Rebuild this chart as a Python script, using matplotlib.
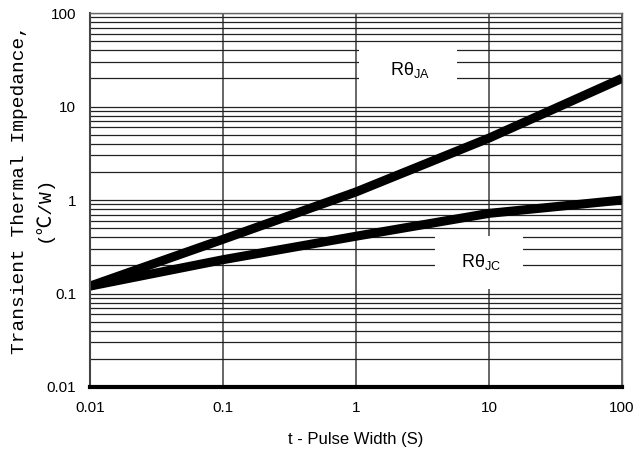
import matplotlib.pyplot as plt
from matplotlib.ticker import LogLocator, FixedLocator, NullFormatter

# pulse width (s) and read-off impedance values (C/W)
t = [0.01, 0.1, 1, 10, 100]
r_ja = [0.12, 0.38, 1.22, 4.6, 20.0]
r_jc = [0.12, 0.23, 0.41, 0.72, 1.0]

x_ticks = [0.01, 0.1, 1, 10, 100]
x_labels = ["0.01", "0.1", "1", "10", "100"]
y_ticks = [0.01, 0.1, 1, 10, 100]
y_labels = ["0.01", "0.1", "1", "10", "100"]

plt.rcParams["font.family"] = ["Liberation Sans", "DejaVu Sans"]
plt.rcParams["mathtext.fontset"] = "custom"
plt.rcParams["mathtext.rm"] = "Liberation Sans"

fig = plt.figure(figsize=(6.36, 4.5), dpi=100)
ax = fig.add_axes([0.1415, 0.14, 0.8365, 0.831])

ax.set_xscale("log")
ax.set_yscale("log")
ax.set_xlim(0.01, 100)
ax.set_ylim(0.01, 100)

# grid: decades vertical, every minor step horizontal
ax.yaxis.set_minor_locator(LogLocator(base=10, subs=range(2, 10), numticks=20))
ax.yaxis.set_minor_formatter(NullFormatter())
ax.xaxis.set_minor_locator(FixedLocator([]))
ax.grid(True, which="major", axis="x", color="#666666", lw=1.4)
ax.grid(True, which="both", axis="y", color="#222222", lw=0.9)
ax.set_axisbelow(True)

ax.plot(t, r_ja, color="black", lw=6.5, solid_capstyle="butt")
ax.plot(t, r_jc, color="black", lw=6.5, solid_capstyle="butt")

ax.set_xticks(x_ticks)
ax.set_xticklabels(x_labels)
ax.set_yticks(y_ticks)
ax.set_yticklabels(y_labels)
ax.tick_params(which="both", length=0, labelsize=11)
ax.tick_params(axis="x", pad=10)
ax.tick_params(axis="y", pad=10)

for side in ["top", "right"]:
    ax.spines[side].set_color("#666666")
    ax.spines[side].set_linewidth(1.0)
ax.spines["left"].set_color("#444444")
ax.spines["left"].set_linewidth(1.5)
ax.spines["bottom"].set_color("black")
ax.spines["bottom"].set_linewidth(3)

ax.text(2.45, 24.4, r"   R$\mathregular{\theta_{JA}}$   ", fontsize=13,
        ha="center", va="center",
        bbox=dict(boxstyle="square,pad=0.9", fc="white", ec="none"))
ax.text(8.4, 0.215, r"  R$\mathregular{\theta_{JC}}$  ", fontsize=13,
        ha="center", va="center",
        bbox=dict(boxstyle="square,pad=0.9", fc="white", ec="none"))

ax.set_xlabel("t - Pulse Width (S)", fontsize=12, labelpad=12)

fig.text(0.031, 0.578, "Transient Thermal Impedance,", rotation=90,
         ha="center", va="center", fontsize=14,
         family=["Liberation Mono", "Noto Sans CJK SC"])
fig.text(0.068, 0.535, "(℃/W)", rotation=90,
         ha="center", va="center", fontsize=14,
         family=["Liberation Mono", "Noto Sans CJK SC"])

fig.savefig("out.png", dpi=100)
plt.close(fig)
